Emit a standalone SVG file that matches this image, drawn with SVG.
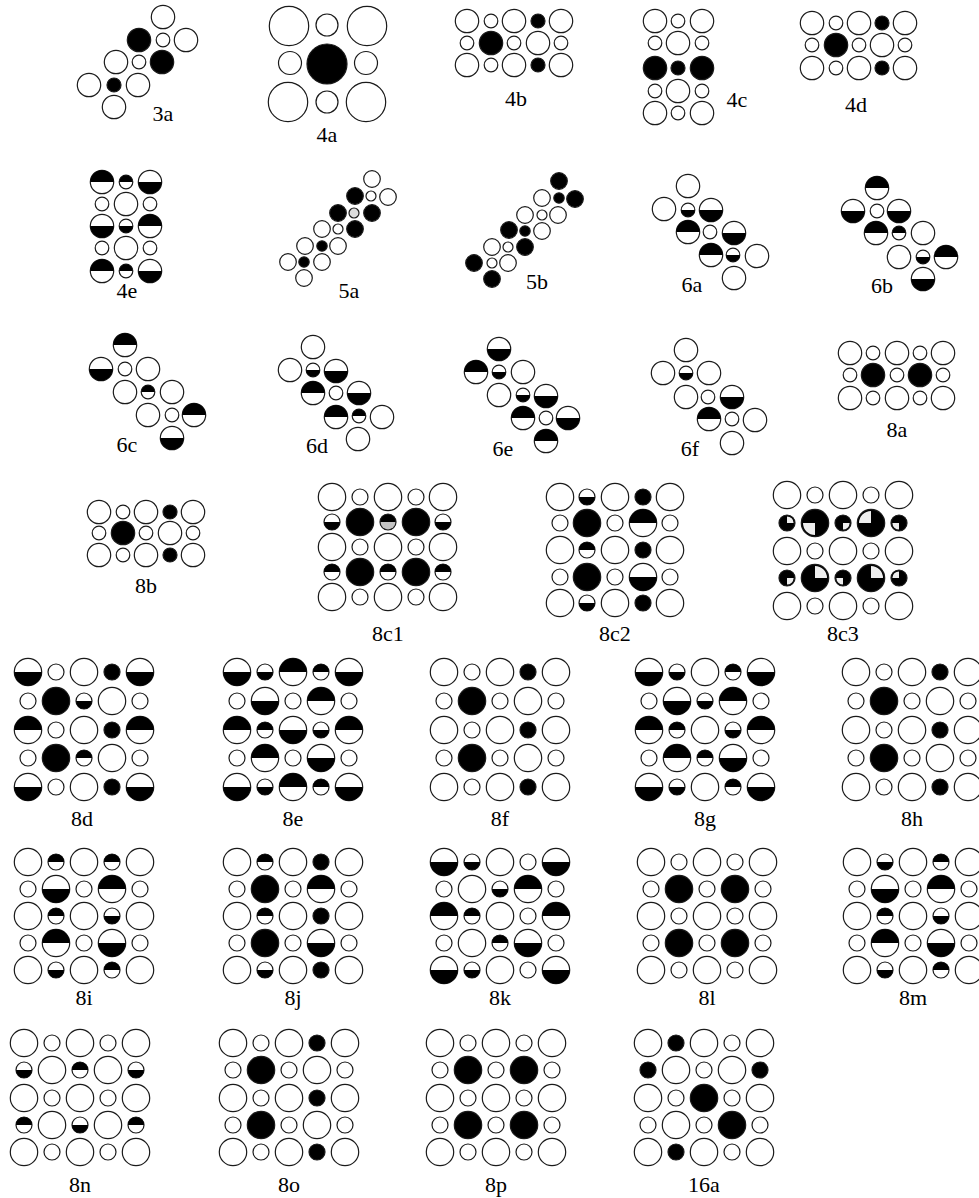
<svg xmlns="http://www.w3.org/2000/svg" width="979" height="1198" viewBox="0 0 979 1198">
<style>
.o{fill:#fff;stroke:#1a1a1a;stroke-width:1.2}
.f{fill:#000;stroke:#1a1a1a;stroke-width:1.2}
.k{fill:#000}
.w{fill:#eee}
.g{fill:#c4c4c4}
.s{fill:none;stroke:#1a1a1a;stroke-width:1.2}
text{font-family:'Liberation Serif','DejaVu Serif',serif;font-size:22px;text-anchor:middle;fill:#000}
</style>
<defs>
<circle id="LO" r="13.7" class="o"/>
<circle id="LF" r="13.7" class="f"/>
<g id="LT"><circle r="13.7" class="o"/><path class="k" d="M-13.7,0A13.7,13.7 0 0 1 13.7,0Z"/></g>
<g id="LB"><circle r="13.7" class="o"/><path class="k" d="M-13.7,0A13.7,13.7 0 0 0 13.7,0Z"/></g>
<circle id="lo" r="8" class="o"/>
<circle id="lf" r="8" class="f"/>
<g id="lt"><circle r="8" class="o"/><path class="k" d="M-8,0A8,8 0 0 1 8,0Z"/></g>
<g id="lb"><circle r="8" class="o"/><path class="k" d="M-8,0A8,8 0 0 0 8,0Z"/></g>
<g id="lS1"><circle r="8" class="f"/><path class="g" d="M-7.4,0A7.4,7.4 0 0 0 7.4,0Z"/></g>
<circle id="MO" r="11.7" class="o"/>
<circle id="MF" r="11.7" class="f"/>
<g id="MT"><circle r="11.7" class="o"/><path class="k" d="M-11.7,0A11.7,11.7 0 0 1 11.7,0Z"/></g>
<g id="MB"><circle r="11.7" class="o"/><path class="k" d="M-11.7,0A11.7,11.7 0 0 0 11.7,0Z"/></g>
<circle id="mo" r="6.8" class="o"/>
<circle id="mf" r="7" class="f"/>
<g id="mt"><circle r="6.8" class="o"/><path class="k" d="M-6.8,0A6.8,6.8 0 0 1 6.8,0Z"/></g>
<g id="mb"><circle r="6.8" class="o"/><path class="k" d="M-6.8,0A6.8,6.8 0 0 0 6.8,0Z"/></g>
<circle id="SO" r="8.3" class="o"/>
<circle id="SF" r="8.3" class="f"/>
<circle id="so" r="5" class="o"/>
<circle id="sf" r="5.2" class="f"/>
<circle id="sd" r="5" fill="#ddd" stroke="#1a1a1a" stroke-width="1.2"/>
<g id="LqTR"><circle r="13.7" class="f"/><path class="w" d="M0,0L0,-12A12,12 0 0 1 12,0Z"/></g>
<g id="LqTL"><circle r="13.7" class="f"/><path class="w" d="M0,0L-12,0A12,12 0 0 1 0,-12Z"/></g>
<g id="LqBL"><circle r="13.7" class="f"/><path class="w" d="M0,0L0,12A12,12 0 0 1 -12,0Z"/></g>
<g id="lqTR"><circle r="8" class="f"/><path class="w" d="M0,0L0,-6.6A6.6,6.6 0 0 1 6.6,0Z"/></g>
<g id="lqTL"><circle r="8" class="f"/><path class="w" d="M0,0L-6.6,0A6.6,6.6 0 0 1 0,-6.6Z"/></g>
<g id="lqBR"><circle r="8" class="f"/><path class="w" d="M0,0L6.6,0A6.6,6.6 0 0 1 0,6.6Z"/></g>
<g id="lqBL"><circle r="8" class="f"/><path class="w" d="M0,0L0,6.6A6.6,6.6 0 0 1 -6.6,0Z"/></g>
</defs>
<rect width="979" height="1198" fill="#fff"/>

<g id="fig-3a">
<use href="#MO" x="163" y="17"/>
<use href="#MF" x="139" y="40"/><use href="#mo" x="163" y="40"/><use href="#MO" x="186" y="40"/>
<use href="#MO" x="116" y="62"/><use href="#mo" x="139" y="62"/><use href="#MF" x="162" y="62"/>
<use href="#MO" x="89" y="85"/><use href="#mf" x="114" y="85"/><use href="#MO" x="138" y="85"/>
<use href="#MO" x="114" y="107"/>
<text x="163" y="121">3a</text>
</g>

<g id="fig-4a">
<circle class="o" cx="289" cy="26" r="19.7"/><circle class="o" cx="327" cy="25" r="11"/><circle class="o" cx="367" cy="26" r="19.7"/>
<circle class="o" cx="290" cy="63" r="11.5"/><circle class="f" cx="327" cy="64" r="20"/><circle class="o" cx="366" cy="63" r="11.5"/>
<circle class="o" cx="288" cy="102" r="19.7"/><circle class="o" cx="327" cy="102" r="11"/><circle class="o" cx="366" cy="102" r="19.7"/>
<text x="327" y="142">4a</text>
</g>

<g id="fig-4b">
<use href="#MO" x="467" y="21"/><use href="#mo" x="491" y="21"/><use href="#MO" x="514" y="21"/><use href="#mf" x="538" y="21"/><use href="#MO" x="561" y="21"/>
<use href="#mo" x="467" y="43"/><use href="#MF" x="491" y="43"/><use href="#mo" x="514" y="43"/><use href="#MO" x="538" y="43"/><use href="#mo" x="561" y="43"/>
<use href="#MO" x="467" y="65"/><use href="#mo" x="491" y="65"/><use href="#MO" x="514" y="65"/><use href="#mf" x="538" y="65"/><use href="#MO" x="561" y="65"/>
<text x="516" y="106">4b</text>
</g>

<g id="fig-4c">
<use href="#MO" x="655" y="21"/><use href="#mo" x="678" y="21"/><use href="#MO" x="702" y="21"/>
<use href="#mo" x="655" y="43"/><use href="#MO" x="678" y="43"/><use href="#mo" x="702" y="43"/>
<use href="#MF" x="655" y="68"/><use href="#mf" x="678" y="68"/><use href="#MF" x="702" y="68"/>
<use href="#mo" x="655" y="91"/><use href="#MO" x="678" y="91"/><use href="#mo" x="702" y="91"/>
<use href="#MO" x="655" y="113"/><use href="#mo" x="678" y="113"/><use href="#MO" x="702" y="113"/>
<text x="737" y="107">4c</text>
</g>

<g id="fig-4d">
<use href="#MO" x="812" y="23"/><use href="#mo" x="836" y="23"/><use href="#MO" x="859" y="23"/><use href="#mf" x="882" y="23"/><use href="#MO" x="905" y="23"/>
<use href="#mo" x="812" y="45"/><use href="#MF" x="836" y="45"/><use href="#mo" x="859" y="45"/><use href="#MO" x="882" y="45"/><use href="#mo" x="905" y="45"/>
<use href="#MO" x="812" y="68"/><use href="#mo" x="836" y="68"/><use href="#MO" x="859" y="68"/><use href="#mf" x="882" y="68"/><use href="#MO" x="905" y="68"/>
<text x="856" y="112">4d</text>
</g>

<g id="fig-4e">
<use href="#MT" x="102" y="182"/><use href="#mt" x="126" y="182"/><use href="#MB" x="150" y="182"/>
<use href="#mo" x="102" y="204"/><use href="#MO" x="126" y="204"/><use href="#mo" x="150" y="204"/>
<use href="#MB" x="102" y="226"/><use href="#mb" x="126" y="226"/><use href="#MT" x="150" y="226"/>
<use href="#mo" x="102" y="248"/><use href="#MO" x="126" y="248"/><use href="#mo" x="150" y="248"/>
<use href="#MT" x="102" y="271"/><use href="#mt" x="126" y="271"/><use href="#MB" x="150" y="271"/>
<text x="127" y="298">4e</text>
</g>

<g id="fig-5a">
<use href="#SO" x="372" y="179"/>
<use href="#SF" x="355" y="196"/><use href="#so" x="371" y="196"/><use href="#SO" x="388" y="197"/>
<use href="#SF" x="338" y="213"/><use href="#sd" x="354" y="213"/><use href="#SF" x="372" y="213"/>
<use href="#SO" x="322" y="229"/><use href="#so" x="338" y="229"/><use href="#SF" x="355" y="229"/>
<use href="#SO" x="305" y="246"/><use href="#sf" x="322" y="246"/><use href="#SO" x="338" y="246"/>
<use href="#SO" x="288" y="262"/><use href="#sf" x="304" y="262"/><use href="#SO" x="322" y="262"/>
<use href="#SO" x="304" y="278"/>
<text x="349" y="298">5a</text>
</g>

<g id="fig-5b">
<use href="#SF" x="559" y="181"/>
<use href="#SO" x="542" y="198"/><use href="#sf" x="559" y="198"/><use href="#SF" x="575" y="199"/>
<use href="#SO" x="525" y="215"/><use href="#so" x="542" y="215"/><use href="#SO" x="558" y="215"/>
<use href="#SF" x="509" y="230"/><use href="#sf" x="525" y="231"/><use href="#SO" x="542" y="231"/>
<use href="#SO" x="492" y="247"/><use href="#so" x="508" y="247"/><use href="#SF" x="525" y="247"/>
<use href="#SF" x="474" y="263"/><use href="#so" x="492" y="263"/><use href="#SO" x="508" y="263"/>
<use href="#SF" x="492" y="279"/>
<text x="537" y="289">5b</text>
</g>

<g id="fig-6a">
<use href="#MO" x="688" y="186"/>
<use href="#MO" x="664" y="209"/><use href="#mb" x="688" y="210"/><use href="#MB" x="711" y="210"/>
<use href="#MT" x="688" y="232"/><use href="#mo" x="710" y="232"/><use href="#MB" x="734" y="233"/>
<use href="#MT" x="711" y="255"/><use href="#mb" x="733" y="255"/><use href="#MO" x="757" y="256"/>
<use href="#MO" x="734" y="278"/>
<text x="692" y="292">6a</text>
</g>

<g id="fig-6b">
<use href="#MT" x="877" y="188"/>
<use href="#MB" x="853" y="211"/><use href="#mo" x="877" y="211"/><use href="#MB" x="899" y="211"/>
<use href="#MT" x="876" y="233"/><use href="#mt" x="899" y="233"/><use href="#MO" x="923" y="233"/>
<use href="#MO" x="899" y="257"/><use href="#mb" x="923" y="257"/><use href="#MT" x="946" y="257"/>
<use href="#MB" x="923" y="279"/>
<text x="882" y="293">6b</text>
</g>

<g id="fig-6c">
<use href="#MT" x="125" y="345"/>
<use href="#MB" x="101" y="369"/><use href="#mo" x="125" y="369"/><use href="#MO" x="148" y="369"/>
<use href="#MO" x="125" y="392"/><use href="#mt" x="148" y="392"/><use href="#MO" x="172" y="392"/>
<use href="#MO" x="148" y="415"/><use href="#mo" x="172" y="415"/><use href="#MT" x="194" y="415"/>
<use href="#MB" x="172" y="438"/>
<text x="127" y="452">6c</text>
</g>

<g id="fig-6d">
<use href="#MO" x="313" y="347"/>
<use href="#MO" x="290" y="370"/><use href="#mb" x="313" y="370"/><use href="#MB" x="336" y="371"/>
<use href="#MT" x="313" y="393"/><use href="#mo" x="336" y="393"/><use href="#MB" x="359" y="393"/>
<use href="#MT" x="336" y="417"/><use href="#mt" x="359" y="416"/><use href="#MO" x="382" y="417"/>
<use href="#MO" x="358" y="439"/>
<text x="317" y="453">6d</text>
</g>

<g id="fig-6e">
<use href="#MB" x="499" y="349"/>
<use href="#MT" x="476" y="372"/><use href="#mb" x="499" y="372"/><use href="#MO" x="523" y="372"/>
<use href="#MO" x="499" y="395"/><use href="#mb" x="523" y="395"/><use href="#MB" x="546" y="396"/>
<use href="#MT" x="523" y="418"/><use href="#mo" x="546" y="418"/><use href="#MB" x="568" y="418"/>
<use href="#MT" x="546" y="441"/>
<text x="503" y="456">6e</text>
</g>

<g id="fig-6f">
<use href="#MO" x="686" y="350"/>
<use href="#MO" x="663" y="373"/><use href="#mb" x="686" y="373"/><use href="#MO" x="709" y="373"/>
<use href="#MO" x="686" y="397"/><use href="#mo" x="708" y="397"/><use href="#MB" x="732" y="397"/>
<use href="#MT" x="709" y="419"/><use href="#mo" x="732" y="419"/><use href="#MO" x="755" y="420"/>
<use href="#MO" x="732" y="443"/>
<text x="690" y="456">6f</text>
</g>

<g id="fig-8a">
<use href="#MO" x="850" y="353"/><use href="#mo" x="873" y="353"/><use href="#MO" x="897" y="353"/><use href="#mo" x="920" y="353"/><use href="#MO" x="943" y="353"/>
<use href="#mo" x="850" y="375"/><use href="#MF" x="873" y="375"/><use href="#mo" x="897" y="375"/><use href="#MF" x="920" y="375"/><use href="#mo" x="943" y="375"/>
<use href="#MO" x="850" y="398"/><use href="#mo" x="873" y="398"/><use href="#MO" x="897" y="398"/><use href="#mo" x="920" y="398"/><use href="#MO" x="943" y="398"/>
<text x="897" y="437">8a</text>
</g>

<g id="fig-8b">
<use href="#MO" x="99" y="512"/><use href="#mo" x="123" y="512"/><use href="#MO" x="146" y="512"/><use href="#mf" x="170" y="512"/><use href="#MO" x="193" y="512"/>
<use href="#mo" x="99" y="533"/><use href="#MF" x="123" y="533"/><use href="#mo" x="146" y="533"/><use href="#MO" x="170" y="533"/><use href="#mo" x="193" y="533"/>
<use href="#MO" x="99" y="555"/><use href="#mo" x="123" y="555"/><use href="#MO" x="146" y="555"/><use href="#mf" x="170" y="555"/><use href="#MO" x="193" y="555"/>
<text x="146" y="593">8b</text>
</g>

<g id="fig-8c1">
<use href="#LO" x="332" y="497"/><use href="#lo" x="360" y="497"/><use href="#LO" x="388" y="497"/><use href="#lo" x="416" y="497"/><use href="#LO" x="443" y="497"/>
<use href="#lb" x="332" y="522"/><use href="#LF" x="360" y="522"/><use href="#lS1" x="388" y="522"/><use href="#LF" x="416" y="522"/><use href="#lb" x="443" y="522"/>
<use href="#LO" x="332" y="547"/><use href="#lo" x="360" y="547"/><use href="#LO" x="388" y="547"/><use href="#lo" x="416" y="547"/><use href="#LO" x="443" y="547"/>
<use href="#lt" x="332" y="572"/><use href="#LF" x="360" y="572"/><use href="#lt" x="388" y="572"/><use href="#LF" x="416" y="572"/><use href="#lt" x="443" y="572"/>
<use href="#LO" x="332" y="597"/><use href="#lo" x="360" y="597"/><use href="#LO" x="388" y="597"/><use href="#lo" x="416" y="597"/><use href="#LO" x="443" y="597"/>
<text x="388" y="641">8c1</text>
</g>

<g id="fig-8c2">
<use href="#LO" x="560" y="497"/><use href="#lb" x="587" y="497"/><use href="#LO" x="615" y="497"/><use href="#lf" x="643" y="497"/><use href="#LO" x="670" y="497"/>
<use href="#lo" x="560" y="523"/><use href="#LF" x="587" y="523"/><use href="#lo" x="615" y="523"/><use href="#LT" x="643" y="523"/><use href="#lo" x="670" y="523"/>
<use href="#LO" x="560" y="550"/><use href="#lt" x="587" y="550"/><use href="#LO" x="615" y="550"/><use href="#lf" x="643" y="550"/><use href="#LO" x="670" y="550"/>
<use href="#lo" x="560" y="577"/><use href="#LF" x="587" y="577"/><use href="#lo" x="615" y="577"/><use href="#LB" x="643" y="577"/><use href="#lo" x="670" y="577"/>
<use href="#LO" x="560" y="603"/><use href="#lb" x="587" y="603"/><use href="#LO" x="615" y="603"/><use href="#lf" x="643" y="603"/><use href="#LO" x="670" y="603"/>
<text x="615" y="641">8c2</text>
</g>

<g id="fig-8c3">
<use href="#LO" x="787" y="495"/><use href="#lo" x="815" y="495"/><use href="#LO" x="843" y="495"/><use href="#lo" x="871" y="495"/><use href="#LO" x="899" y="495"/>
<use href="#lqTR" x="787" y="523"/><use href="#LqBL" x="815" y="523"/><use href="#lqBR" x="843" y="523"/><use href="#LqTL" x="871" y="523"/><use href="#lqBL" x="899" y="523"/>
<use href="#LO" x="787" y="551"/><use href="#lo" x="815" y="551"/><use href="#LO" x="843" y="551"/><use href="#lo" x="871" y="551"/><use href="#LO" x="899" y="551"/>
<use href="#lqBR" x="787" y="578"/><use href="#LqTR" x="815" y="578"/><use href="#lqBL" x="843" y="578"/><use href="#LqTR" x="871" y="578"/><use href="#lqTL" x="899" y="578"/>
<use href="#LO" x="787" y="606"/><use href="#lo" x="815" y="606"/><use href="#LO" x="843" y="606"/><use href="#lo" x="871" y="606"/><use href="#LO" x="899" y="606"/>
<text x="843" y="641">8c3</text>
</g>

<g id="fig-8d">
<use href="#LB" x="28" y="672"/><use href="#lo" x="56" y="672"/><use href="#LO" x="84" y="672"/><use href="#lf" x="112" y="672"/><use href="#LB" x="140" y="672"/>
<use href="#lo" x="28" y="701"/><use href="#LF" x="56" y="701"/><use href="#lb" x="84" y="701"/><use href="#LO" x="112" y="701"/><use href="#lo" x="140" y="701"/>
<use href="#LT" x="28" y="730"/><use href="#lo" x="56" y="730"/><use href="#LO" x="84" y="730"/><use href="#lf" x="112" y="730"/><use href="#LT" x="140" y="730"/>
<use href="#lo" x="28" y="758"/><use href="#LF" x="56" y="758"/><use href="#lt" x="84" y="758"/><use href="#LO" x="112" y="758"/><use href="#lo" x="140" y="758"/>
<use href="#LB" x="28" y="787"/><use href="#lo" x="56" y="787"/><use href="#LO" x="84" y="787"/><use href="#lf" x="112" y="787"/><use href="#LB" x="140" y="787"/>
<text x="82" y="826">8d</text>
</g>

<g id="fig-8e">
<use href="#LB" x="237" y="672"/><use href="#lb" x="265" y="672"/><use href="#LT" x="293" y="672"/><use href="#lt" x="321" y="672"/><use href="#LB" x="349" y="672"/>
<use href="#lo" x="237" y="701"/><use href="#LB" x="265" y="701"/><use href="#lo" x="293" y="701"/><use href="#LT" x="321" y="701"/><use href="#lo" x="349" y="701"/>
<use href="#LT" x="237" y="730"/><use href="#lt" x="265" y="730"/><use href="#LB" x="293" y="730"/><use href="#lb" x="321" y="730"/><use href="#LT" x="349" y="730"/>
<use href="#lo" x="237" y="758"/><use href="#LT" x="265" y="758"/><use href="#lo" x="293" y="758"/><use href="#LB" x="321" y="758"/><use href="#lo" x="349" y="758"/>
<use href="#LB" x="237" y="787"/><use href="#lb" x="265" y="787"/><use href="#LT" x="293" y="787"/><use href="#lt" x="321" y="787"/><use href="#LB" x="349" y="787"/>
<text x="293" y="826">8e</text>
</g>

<g id="fig-8f">
<use href="#LO" x="444" y="672"/><use href="#lo" x="472" y="672"/><use href="#LO" x="500" y="672"/><use href="#lf" x="528" y="672"/><use href="#LO" x="556" y="672"/>
<use href="#lo" x="444" y="701"/><use href="#LF" x="472" y="701"/><use href="#lo" x="500" y="701"/><use href="#LO" x="528" y="701"/><use href="#lo" x="556" y="701"/>
<use href="#LO" x="444" y="730"/><use href="#lo" x="472" y="730"/><use href="#LO" x="500" y="730"/><use href="#lf" x="528" y="730"/><use href="#LO" x="556" y="730"/>
<use href="#lo" x="444" y="758"/><use href="#LF" x="472" y="758"/><use href="#lo" x="500" y="758"/><use href="#LO" x="528" y="758"/><use href="#lo" x="556" y="758"/>
<use href="#LO" x="444" y="787"/><use href="#lo" x="472" y="787"/><use href="#LO" x="500" y="787"/><use href="#lf" x="528" y="787"/><use href="#LO" x="556" y="787"/>
<text x="500" y="826">8f</text>
</g>

<g id="fig-8g">
<use href="#LB" x="649" y="672"/><use href="#lb" x="677" y="672"/><use href="#LO" x="705" y="672"/><use href="#lt" x="733" y="672"/><use href="#LB" x="761" y="672"/>
<use href="#lo" x="649" y="701"/><use href="#LB" x="677" y="701"/><use href="#lb" x="705" y="701"/><use href="#LT" x="733" y="701"/><use href="#lo" x="761" y="701"/>
<use href="#LT" x="649" y="730"/><use href="#lt" x="677" y="730"/><use href="#LO" x="705" y="730"/><use href="#lb" x="733" y="730"/><use href="#LT" x="761" y="730"/>
<use href="#lo" x="649" y="758"/><use href="#LT" x="677" y="758"/><use href="#lt" x="705" y="758"/><use href="#LB" x="733" y="758"/><use href="#lo" x="761" y="758"/>
<use href="#LB" x="649" y="787"/><use href="#lb" x="677" y="787"/><use href="#LO" x="705" y="787"/><use href="#lt" x="733" y="787"/><use href="#LB" x="761" y="787"/>
<text x="705" y="826">8g</text>
</g>

<g id="fig-8h">
<use href="#LO" x="856" y="672"/><use href="#lo" x="884" y="672"/><use href="#LO" x="912" y="672"/><use href="#lf" x="940" y="672"/><use href="#LO" x="968" y="672"/>
<use href="#lo" x="856" y="701"/><use href="#LF" x="884" y="701"/><use href="#lo" x="912" y="701"/><use href="#LO" x="940" y="701"/><use href="#lo" x="968" y="701"/>
<use href="#LO" x="856" y="730"/><use href="#lo" x="884" y="730"/><use href="#LO" x="912" y="730"/><use href="#lf" x="940" y="730"/><use href="#LO" x="968" y="730"/>
<use href="#lo" x="856" y="758"/><use href="#LF" x="884" y="758"/><use href="#lo" x="912" y="758"/><use href="#LO" x="940" y="758"/><use href="#lo" x="968" y="758"/>
<use href="#LO" x="856" y="787"/><use href="#lo" x="884" y="787"/><use href="#LO" x="912" y="787"/><use href="#lf" x="940" y="787"/><use href="#LO" x="968" y="787"/>
<text x="912" y="826">8h</text>
</g>

<g id="fig-8i">
<use href="#LO" x="28" y="862"/><use href="#lt" x="56" y="862"/><use href="#LO" x="84" y="862"/><use href="#lt" x="112" y="862"/><use href="#LO" x="140" y="862"/>
<use href="#lo" x="28" y="889"/><use href="#LB" x="56" y="889"/><use href="#lo" x="84" y="889"/><use href="#LT" x="112" y="889"/><use href="#lo" x="140" y="889"/>
<use href="#LO" x="28" y="916"/><use href="#lt" x="56" y="916"/><use href="#LO" x="84" y="916"/><use href="#lb" x="112" y="916"/><use href="#LO" x="140" y="916"/>
<use href="#lo" x="28" y="943"/><use href="#LT" x="56" y="943"/><use href="#lo" x="84" y="943"/><use href="#LB" x="112" y="943"/><use href="#lo" x="140" y="943"/>
<use href="#LO" x="28" y="970"/><use href="#lb" x="56" y="970"/><use href="#LO" x="84" y="970"/><use href="#lt" x="112" y="970"/><use href="#LO" x="140" y="970"/>
<text x="84" y="1005">8i</text>
</g>

<g id="fig-8j">
<use href="#LO" x="237" y="862"/><use href="#lt" x="265" y="862"/><use href="#LO" x="293" y="862"/><use href="#lf" x="321" y="862"/><use href="#LO" x="349" y="862"/>
<use href="#lo" x="237" y="889"/><use href="#LF" x="265" y="889"/><use href="#lo" x="293" y="889"/><use href="#LT" x="321" y="889"/><use href="#lo" x="349" y="889"/>
<use href="#LO" x="237" y="916"/><use href="#lt" x="265" y="916"/><use href="#LO" x="293" y="916"/><use href="#lf" x="321" y="916"/><use href="#LO" x="349" y="916"/>
<use href="#lo" x="237" y="943"/><use href="#LF" x="265" y="943"/><use href="#lo" x="293" y="943"/><use href="#LB" x="321" y="943"/><use href="#lo" x="349" y="943"/>
<use href="#LO" x="237" y="970"/><use href="#lb" x="265" y="970"/><use href="#LO" x="293" y="970"/><use href="#lf" x="321" y="970"/><use href="#LO" x="349" y="970"/>
<text x="293" y="1005">8j</text>
</g>

<g id="fig-8k">
<use href="#LB" x="444" y="862"/><use href="#lb" x="472" y="862"/><use href="#LO" x="500" y="862"/><use href="#lo" x="528" y="862"/><use href="#LB" x="556" y="862"/>
<use href="#lo" x="444" y="889"/><use href="#LO" x="472" y="889"/><use href="#lb" x="500" y="889"/><use href="#LT" x="528" y="889"/><use href="#lo" x="556" y="889"/>
<use href="#LT" x="444" y="916"/><use href="#lt" x="472" y="916"/><use href="#LO" x="500" y="916"/><use href="#lo" x="528" y="916"/><use href="#LT" x="556" y="916"/>
<use href="#lo" x="444" y="943"/><use href="#LO" x="472" y="943"/><use href="#lt" x="500" y="943"/><use href="#LB" x="528" y="943"/><use href="#lo" x="556" y="943"/>
<use href="#LB" x="444" y="970"/><use href="#lb" x="472" y="970"/><use href="#LO" x="500" y="970"/><use href="#lo" x="528" y="970"/><use href="#LB" x="556" y="970"/>
<text x="500" y="1005">8k</text>
</g>

<g id="fig-8l">
<use href="#LO" x="651" y="862"/><use href="#lo" x="679" y="862"/><use href="#LO" x="707" y="862"/><use href="#lo" x="735" y="862"/><use href="#LO" x="763" y="862"/>
<use href="#lo" x="651" y="889"/><use href="#LF" x="679" y="889"/><use href="#lo" x="707" y="889"/><use href="#LF" x="735" y="889"/><use href="#lo" x="763" y="889"/>
<use href="#LO" x="651" y="916"/><use href="#lo" x="679" y="916"/><use href="#LO" x="707" y="916"/><use href="#lo" x="735" y="916"/><use href="#LO" x="763" y="916"/>
<use href="#lo" x="651" y="943"/><use href="#LF" x="679" y="943"/><use href="#lo" x="707" y="943"/><use href="#LF" x="735" y="943"/><use href="#lo" x="763" y="943"/>
<use href="#LO" x="651" y="970"/><use href="#lo" x="679" y="970"/><use href="#LO" x="707" y="970"/><use href="#lo" x="735" y="970"/><use href="#LO" x="763" y="970"/>
<text x="707" y="1005">8l</text>
</g>

<g id="fig-8m">
<use href="#LO" x="857" y="862"/><use href="#lb" x="885" y="862"/><use href="#LO" x="913" y="862"/><use href="#lt" x="941" y="862"/><use href="#LO" x="969" y="862"/>
<use href="#lo" x="857" y="889"/><use href="#LB" x="885" y="889"/><use href="#lo" x="913" y="889"/><use href="#LT" x="941" y="889"/><use href="#lo" x="969" y="889"/>
<use href="#LO" x="857" y="916"/><use href="#lt" x="885" y="916"/><use href="#LO" x="913" y="916"/><use href="#lb" x="941" y="916"/><use href="#LO" x="969" y="916"/>
<use href="#lo" x="857" y="943"/><use href="#LT" x="885" y="943"/><use href="#lo" x="913" y="943"/><use href="#LB" x="941" y="943"/><use href="#lo" x="969" y="943"/>
<use href="#LO" x="857" y="970"/><use href="#lb" x="885" y="970"/><use href="#LO" x="913" y="970"/><use href="#lt" x="941" y="970"/><use href="#LO" x="969" y="970"/>
<text x="913" y="1005">8m</text>
</g>

<g id="fig-8n">
<use href="#LO" x="24" y="1043"/><use href="#lo" x="52" y="1043"/><use href="#LO" x="80" y="1043"/><use href="#lo" x="108" y="1043"/><use href="#LO" x="136" y="1043"/>
<use href="#lb" x="24" y="1070"/><use href="#LO" x="52" y="1070"/><use href="#lt" x="80" y="1070"/><use href="#LO" x="108" y="1070"/><use href="#lb" x="136" y="1070"/>
<use href="#LO" x="24" y="1098"/><use href="#lo" x="52" y="1098"/><use href="#LO" x="80" y="1098"/><use href="#lo" x="108" y="1098"/><use href="#LO" x="136" y="1098"/>
<use href="#lt" x="24" y="1125"/><use href="#LO" x="52" y="1125"/><use href="#lb" x="80" y="1125"/><use href="#LO" x="108" y="1125"/><use href="#lt" x="136" y="1125"/>
<use href="#LO" x="24" y="1152"/><use href="#lo" x="52" y="1152"/><use href="#LO" x="80" y="1152"/><use href="#lo" x="108" y="1152"/><use href="#LO" x="136" y="1152"/>
<text x="80" y="1192">8n</text>
</g>

<g id="fig-8o">
<use href="#LO" x="233" y="1043"/><use href="#lo" x="261" y="1043"/><use href="#LO" x="289" y="1043"/><use href="#lf" x="317" y="1043"/><use href="#LO" x="345" y="1043"/>
<use href="#lo" x="233" y="1070"/><use href="#LF" x="261" y="1070"/><use href="#lo" x="289" y="1070"/><use href="#LO" x="317" y="1070"/><use href="#lo" x="345" y="1070"/>
<use href="#LO" x="233" y="1098"/><use href="#lo" x="261" y="1098"/><use href="#LO" x="289" y="1098"/><use href="#lf" x="317" y="1098"/><use href="#LO" x="345" y="1098"/>
<use href="#lo" x="233" y="1125"/><use href="#LF" x="261" y="1125"/><use href="#lo" x="289" y="1125"/><use href="#LO" x="317" y="1125"/><use href="#lo" x="345" y="1125"/>
<use href="#LO" x="233" y="1152"/><use href="#lo" x="261" y="1152"/><use href="#LO" x="289" y="1152"/><use href="#lf" x="317" y="1152"/><use href="#LO" x="345" y="1152"/>
<text x="289" y="1192">8o</text>
</g>

<g id="fig-8p">
<use href="#LO" x="440" y="1043"/><use href="#lo" x="468" y="1043"/><use href="#LO" x="496" y="1043"/><use href="#lo" x="524" y="1043"/><use href="#LO" x="552" y="1043"/>
<use href="#lo" x="440" y="1070"/><use href="#LF" x="468" y="1070"/><use href="#lo" x="496" y="1070"/><use href="#LF" x="524" y="1070"/><use href="#lo" x="552" y="1070"/>
<use href="#LO" x="440" y="1098"/><use href="#lo" x="468" y="1098"/><use href="#LO" x="496" y="1098"/><use href="#lo" x="524" y="1098"/><use href="#LO" x="552" y="1098"/>
<use href="#lo" x="440" y="1125"/><use href="#LF" x="468" y="1125"/><use href="#lo" x="496" y="1125"/><use href="#LF" x="524" y="1125"/><use href="#lo" x="552" y="1125"/>
<use href="#LO" x="440" y="1152"/><use href="#lo" x="468" y="1152"/><use href="#LO" x="496" y="1152"/><use href="#lo" x="524" y="1152"/><use href="#LO" x="552" y="1152"/>
<text x="496" y="1192">8p</text>
</g>

<g id="fig-16a">
<use href="#LO" x="648" y="1043"/><use href="#lf" x="676" y="1043"/><use href="#LO" x="704" y="1043"/><use href="#lo" x="732" y="1043"/><use href="#LO" x="760" y="1043"/>
<use href="#lf" x="648" y="1070"/><use href="#LO" x="676" y="1070"/><use href="#lo" x="704" y="1070"/><use href="#LO" x="732" y="1070"/><use href="#lf" x="760" y="1070"/>
<use href="#LO" x="648" y="1098"/><use href="#lo" x="676" y="1098"/><use href="#LF" x="704" y="1098"/><use href="#lo" x="732" y="1098"/><use href="#LO" x="760" y="1098"/>
<use href="#lo" x="648" y="1125"/><use href="#LO" x="676" y="1125"/><use href="#lo" x="704" y="1125"/><use href="#LF" x="732" y="1125"/><use href="#lo" x="760" y="1125"/>
<use href="#LO" x="648" y="1152"/><use href="#lf" x="676" y="1152"/><use href="#LO" x="704" y="1152"/><use href="#lo" x="732" y="1152"/><use href="#LO" x="760" y="1152"/>
<text x="704" y="1192">16a</text>
</g>
</svg>
